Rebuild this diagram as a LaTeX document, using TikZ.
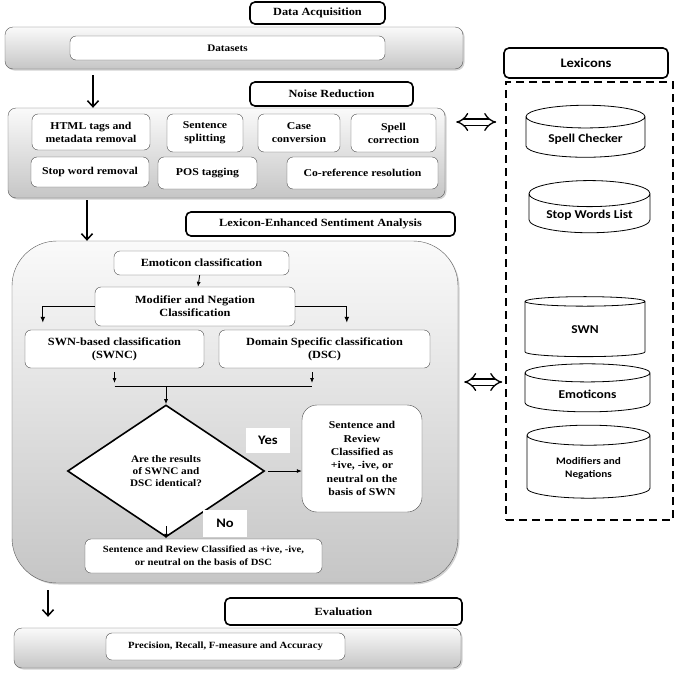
\documentclass[tikz,border=0pt]{standalone}
\usepackage{fontspec}
\setmainfont{Liberation Serif}[FakeStretch=1.12]
\newfontfamily\lexfont{Carlito}[FakeStretch=1.12]
\usetikzlibrary{positioning, calc, shapes.geometric, arrows.meta, shadows}

\begin{document}
\begin{tikzpicture}[
    x=1pt, y=-1pt,
    stagebox/.style={rectangle, rounded corners=8pt, draw=gray!70!black, top color=gray!4, bottom color=gray!45,
        drop shadow={opacity=0.35, shadow xshift=1.5pt, shadow yshift=-1.5pt}, inner sep=0pt},
    titlebox/.style={rectangle, rounded corners=5pt, draw=black, line width=1.6pt, fill=white,
        font=\bfseries\fontsize{11}{13}\selectfont},
    procbox/.style={rectangle, rounded corners=6pt, draw=gray!60!black, fill=white, align=center, inner sep=2pt,
        font=\bfseries\fontsize{10.5}{13}\selectfont},
    decision/.style={diamond, draw=black, line width=1.6pt, fill=white, align=center, inner sep=0pt,
        font=\bfseries\fontsize{10}{12}\selectfont},
    lexdb/.style={cylinder, shape border rotate=90, aspect=0.28, draw=black, thick, fill=white, align=center,
        font=\lexfont\bfseries\fontsize{12}{14}\selectfont},
    tag/.style={fill=white, inner sep=0pt, font=\lexfont\bfseries\fontsize{13}{15}\selectfont},
    mainflow/.style={-{Straight Barb[length=6pt,width=11pt]}, line width=1.5pt},
    smallflow/.style={-{Latex[length=5pt,width=4pt]}, thick},
    twoway/.style={double, double distance=5pt, line width=1.3pt, {Implies}-{Implies}}
]
    \useasboundingbox (0,0) rectangle (675,675);

    % Stages
    \node[stagebox, minimum width=458pt, minimum height=42pt] (s1) at (234,48) {};
    \node[stagebox, minimum width=437pt, minimum height=90pt] (s2) at (226.5,153) {};
    \node[stagebox, rounded corners=45pt, minimum width=446pt, minimum height=342pt] (s3) at (235,412) {};
    \node[stagebox, minimum width=447pt, minimum height=40pt] (s4) at (237.5,648) {};

    % Stage titles
    \node[titlebox, minimum width=135pt, minimum height=22pt] (acq) at (317.5,13) {Data Acquisition};
    \node[titlebox, minimum width=163pt, minimum height=24pt] (noise) at (331.5,94) {Noise Reduction};
    \node[titlebox, minimum width=269pt, minimum height=24pt] (lesa) at (320.5,224) {Lexicon-Enhanced Sentiment Analysis};
    \node[titlebox, minimum width=237pt, minimum height=27pt] (eval) at (343.5,611.5) {Evaluation};

    % Data acquisition
    \node[procbox, font=\bfseries\fontsize{10}{12}\selectfont, minimum width=315pt, minimum height=24pt] (data) at (227.5,48) {Datasets};

    % Noise reduction
    \node[procbox, minimum width=118pt, minimum height=36pt] (html) at (91,132) {HTML tags and\\metadata removal};
    \node[procbox, minimum width=76pt, minimum height=38pt] (split) at (205,133) {Sentence\\splitting};
    \node[procbox, minimum width=82pt, minimum height=38pt] (case) at (299,133) {Case\\conversion};
    \node[procbox, minimum width=85pt, minimum height=38pt] (spell) at (393.5,133) {Spell\\correction};
    \node[procbox, minimum width=118pt, minimum height=30pt] (stop) at (90,172) {Stop word removal};
    \node[procbox, minimum width=99pt, minimum height=32pt] (pos) at (207.5,173) {POS tagging};
    \node[procbox, minimum width=151pt, minimum height=32pt] (coref) at (362.5,173) {Co-reference resolution};

    % Sentiment analysis
    \node[procbox, font=\bfseries\fontsize{11}{13}\selectfont, minimum width=175pt, minimum height=24pt] (emo) at (201.5,263) {Emoticon classification};
    \node[procbox, font=\bfseries\fontsize{11}{13}\selectfont, minimum width=200pt, minimum height=39pt] (mod) at (195,306.5) {Modifier and Negation\\Classification};
    \node[procbox, font=\bfseries\fontsize{11}{13}\selectfont, minimum width=179pt, minimum height=38pt] (swnc) at (114.5,349) {SWN-based classification\\(SWNC)};
    \node[procbox, font=\bfseries\fontsize{11}{13}\selectfont, minimum width=211pt, minimum height=38pt] (dsc) at (324.5,349) {Domain Specific classification\\(DSC)};
    \node[decision, minimum width=197pt, minimum height=132pt] (same) at (166,471) {Are the results\\of SWNC and\\DSC identical?};
    \node[procbox, rounded corners=15pt, font=\bfseries\fontsize{10.5}{13.3}\selectfont, minimum width=120pt, minimum height=107pt] (byswn) at (362,458.5)
        {Sentence and\\Review\\Classified as\\+ive, -ive, or\\neutral on the\\basis of SWN};
    \node[procbox, font=\bfseries\fontsize{9.5}{13}\selectfont, minimum width=237pt, minimum height=34pt] (bydsc) at (203.5,556)
        {Sentence and Review Classified as +ive, -ive,\\or neutral on the basis of DSC};
    \node[tag, minimum width=44pt, minimum height=25pt] (yes) at (268,440) {Yes};
    \node[tag, minimum width=44pt, minimum height=27pt] (no) at (225,523) {No};

    % Evaluation
    \node[procbox, font=\bfseries\fontsize{9.5}{12}\selectfont, minimum width=239pt, minimum height=27pt] (prec) at (225.5,646.5) {Precision, Recall, F-measure and Accuracy};

    % Lexicons
    \node[titlebox, font=\lexfont\bfseries\fontsize{13}{15}\selectfont, minimum width=164pt, minimum height=30pt] (lex) at (586,63) {Lexicons};
    \node[draw, dashed, line width=1.6pt, dash pattern=on 8pt off 5pt, minimum width=167pt, minimum height=438pt] (lexset) at (589.5,301) {};
    \node[lexdb, minimum width=119pt, minimum height=52pt] (chk) at (585.5,139) {Spell Checker};
    \node[lexdb, minimum width=121pt, minimum height=51pt] (swl) at (589.5,215.5) {Stop Words List};
    \node[lexdb, minimum width=120pt, minimum height=60pt] (swn) at (585,330) {SWN};
    \node[lexdb, minimum width=125pt, minimum height=48pt] (emolex) at (587.5,394) {Emoticons};
    \node[lexdb, font=\lexfont\bfseries\fontsize{10}{13}\selectfont, minimum width=123pt, minimum height=73pt] (modlex) at (588.5,468.5) {Modifiers and\\Negations};

    % Stage flow
    \draw[mainflow] ([xshift=-141pt,yshift=-6pt]s1.south) -- ([xshift=-141pt]s1.south |- s2.north);
    \draw[mainflow] ([xshift=-139.5pt,yshift=-2pt]s2.south) -- ([xshift=-139.5pt]s2.south |- s3.north);
    \draw[mainflow] ([xshift=-187pt,yshift=-7pt]s3.south) -- ([xshift=-187pt,yshift=11pt]s3.south |- s4.north);

    % Inner flow
    \draw[smallflow] (emo) -- (mod);
    \draw[mainflow, line width=1.2pt, -{Latex[length=6pt,width=5pt]}] (mod.west) -| ([xshift=18pt,yshift=7pt]swnc.north west);
    \draw[mainflow, line width=1.2pt, -{Latex[length=6pt,width=5pt]}] (mod.east) -| ([xshift=128pt,yshift=7pt]dsc.north west);
    \coordinate (jl) at (114.5,386);
    \coordinate (jr) at (312,386);
    \coordinate (jm) at (166,386);
    \draw[smallflow, shorten <=4pt, shorten >=3pt] (swnc.south) -- (jl);
    \draw[smallflow, shorten <=4pt, shorten >=3pt] (jr |- dsc.south) -- (jr);
    \draw[thick] (jl) -- (jr);
    \draw[smallflow] (jm) -- (same.north);
    \draw[smallflow, shorten <=3pt] (same.east) -- (same.east -| byswn.west);
    \draw[smallflow] ([yshift=12pt]same.south) -- (same.south |- bydsc.north);

    % Lexicon access
    \draw[twoway, shorten <=11pt, shorten >=9pt] (s2.east |- 0,122) -- (lexset.west |- 0,122);
    \draw[twoway, shorten <=6pt, shorten >=3pt] (s3.east |- 0,382) -- (lexset.west |- 0,382);
\end{tikzpicture}
\end{document}
